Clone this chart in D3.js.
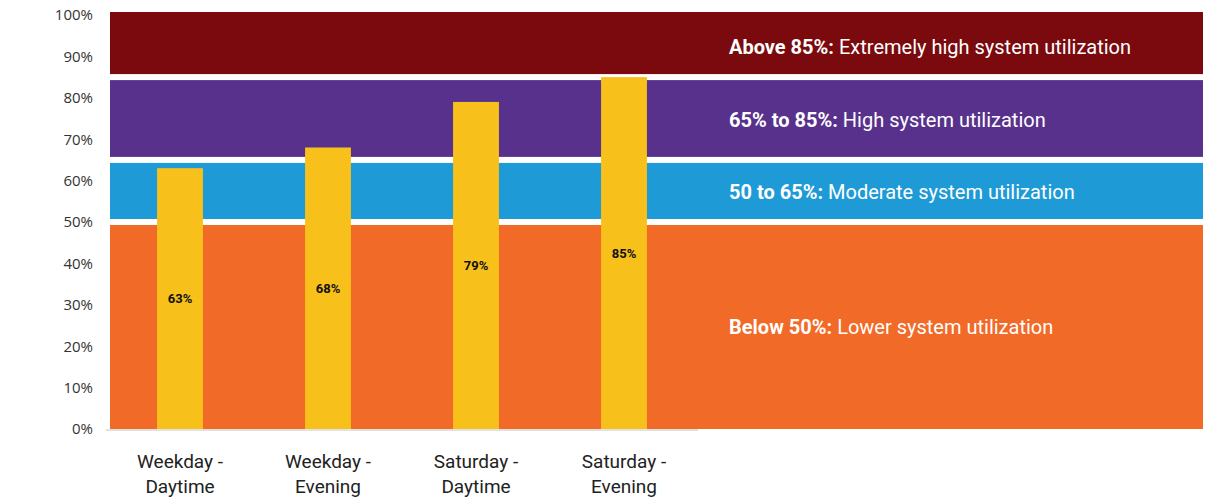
<!DOCTYPE html>
<html>
<head>
<meta charset="utf-8">
<script src="https://cdn.jsdelivr.net/npm/d3@7"></script>
<style>
  body { margin: 0; background: #fff; }
  svg { display: block; }
  .tick-label { font-family: "Open Sans", Lato, sans-serif; font-size: 15px; fill: #333; }
  .cat-label { font-family: Roboto, sans-serif; font-size: 19px; fill: #222; }
  .band-label { font-family: Roboto, sans-serif; font-size: 20px; fill: #fff; }
  .val-label { font-family: Roboto, sans-serif; font-size: 13px; font-weight: bold; fill: #111; }
</style>
</head>
<body>
<svg id="chart" width="1209" height="501"></svg>
<script>
(function () {
    // chart data
    const categories = ["Weekday -\nDaytime", "Weekday -\nEvening", "Saturday -\nDaytime", "Saturday -\nEvening"];
    const values = [63, 68, 79, 85];

    // background utilization zones
    const zoneLow = [0, 50, 65, 85];
    const zoneHigh = [50, 65, 85, 100];
    const zoneBold = ["Below 50%:", "50 to 65%:", "65% to 85%:", "Above 85%:"];
    const zoneText = ["Lower system utilization", "Moderate system utilization", "High system utilization", "Extremely high system utilization"];
    const zoneColors = ["#f26a27", "#1e9ad6", "#58318c", "#7b0a0e"];

    const yTicks = [0, 10, 20, 30, 40, 50, 60, 70, 80, 90, 100];

    const svg = d3.select("#chart");
    const y = d3.scaleLinear().domain([0, 100]).range([429, 15]);
    const x = d3.scaleBand().domain(categories).range([106, 698])
        .paddingInner(0.69).paddingOuter(0.345);

    const zoneLeft = 110, zoneRight = 1203, gap = 3;
    const zones = zoneLow.map((lo, i) => ({
        lo, hi: zoneHigh[i], bold: zoneBold[i], text: zoneText[i], color: zoneColors[i], i
    }));
    const zoneTop = d => d.i === zones.length - 1 ? y(d.hi) - 3 : y(d.hi) + gap;
    const zoneBottom = d => d.i === 0 ? y(d.lo) : y(d.lo) - gap;

    // zone rectangles, separated by thin white gaps
    svg.append("g").selectAll("rect")
        .data(zones)
        .enter().append("rect")
        .attr("x", zoneLeft)
        .attr("width", zoneRight - zoneLeft)
        .attr("y", zoneTop)
        .attr("height", d => zoneBottom(d) - zoneTop(d))
        .attr("fill", d => d.color);

    const zl = svg.append("g").selectAll("text")
        .data(zones)
        .enter().append("text")
        .attr("class", "band-label")
        .attr("x", 729)
        .attr("y", d => y((d.lo + d.hi) / 2))
        .attr("dy", "0.4em");
    zl.append("tspan").attr("font-weight", "bold").text(d => d.bold + " ");
    zl.append("tspan").text(d => d.text);

    // baseline
    svg.append("line")
        .attr("x1", 106).attr("x2", 698)
        .attr("y1", y(0) + 1).attr("y2", y(0) + 1)
        .attr("stroke", "#d9d9d9").attr("stroke-width", 1.5);

    // bars
    svg.append("g").selectAll("rect")
        .data(values)
        .enter().append("rect")
        .attr("x", (d, i) => x(categories[i]))
        .attr("width", x.bandwidth())
        .attr("y", d => y(d))
        .attr("height", d => y(0) - y(d))
        .attr("fill", "#f8c01a");

    svg.append("g").selectAll("text")
        .data(values)
        .enter().append("text")
        .attr("class", "val-label")
        .attr("x", (d, i) => x(categories[i]) + x.bandwidth() / 2)
        .attr("y", d => (y(d) + y(0)) / 2)
        .attr("dy", "0.35em")
        .attr("text-anchor", "middle")
        .text(d => d + "%");

    // y axis labels
    const yAxis = svg.append("g")
        .attr("transform", "translate(93,0)")
        .call(d3.axisLeft(y).tickValues(yTicks).tickSize(0).tickPadding(0).tickFormat(d => d + "%"));
    yAxis.select(".domain").remove();
    yAxis.selectAll("text").attr("class", "tick-label").attr("fill", null);

    // category labels (two lines each)
    const xAxis = svg.append("g")
        .attr("transform", `translate(0,${y(0)})`)
        .call(d3.axisBottom(x).tickSize(0).tickFormat(""));
    xAxis.select(".domain").remove();
    xAxis.selectAll(".tick").append("text")
        .attr("class", "cat-label")
        .attr("text-anchor", "middle")
        .selectAll("tspan")
        .data(d => d.split("\n"))
        .enter().append("tspan")
        .attr("x", 0)
        .attr("y", (d, i) => 39 + i * 25)
        .text(d => d);
})();
</script>
</body>
</html>
